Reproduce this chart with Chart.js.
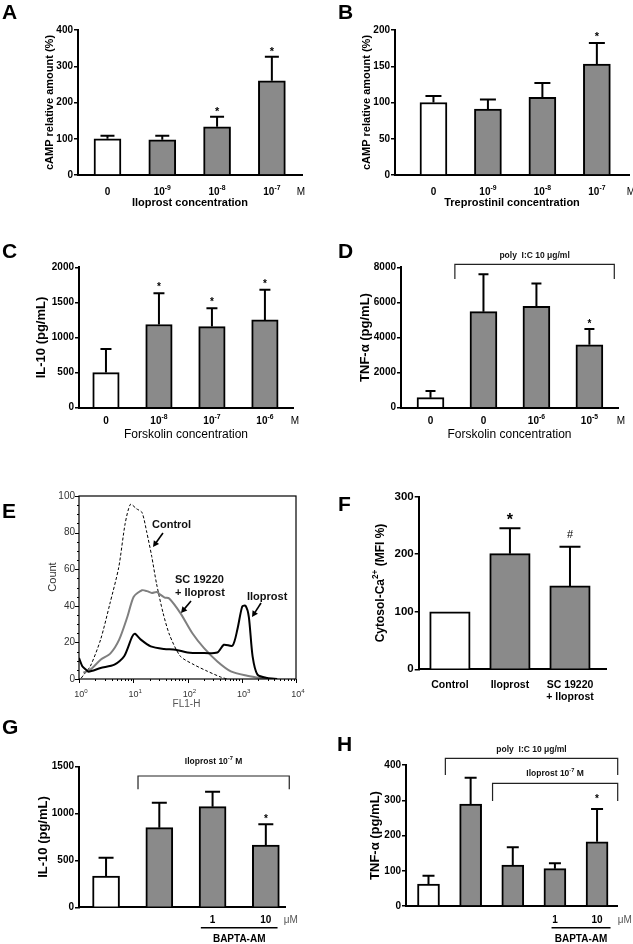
<!DOCTYPE html>
<html><head><meta charset="utf-8">
<script src="https://cdn.jsdelivr.net/npm/chart.js@4"></script>
<style>
html,body{margin:0;padding:0;background:#fff;}
#wrap{position:relative;width:633px;height:944px;overflow:hidden;background:#fff;}
#wrap canvas{position:absolute;left:0;top:0;}
</style></head>
<body><div id="wrap"></div>
<script>
// ---------------- DATA ----------------
const concUnit = 'M';
const aCategories = ['0', '10^{-9}', '10^{-8}', '10^{-7}'];
const aValues = [100, 97, 133, 260];
const aErrors = [8, 11, 28, 66];
const aMarks = ['', '', '*', '*'];

const bCategories = ['0', '10^{-9}', '10^{-8}', '10^{-7}'];
const bValues = [100, 91, 107, 153];
const bErrors = [9, 13, 20, 29];
const bMarks = ['', '', '', '*'];

const cCategories = ['0', '10^{-8}', '10^{-7}', '10^{-6}'];
const cValues = [500, 1185, 1155, 1250];
const cErrors = [335, 445, 262, 430];
const cMarks = ['', '*', '*', '*'];

const dCategories = ['0', '0', '10^{-6}', '10^{-5}'];
const dValues = [570, 5470, 5780, 3580];
const dErrors = [380, 2130, 1300, 905];
const dMarks = ['', '', '', '*'];

const eTickLabels = ['10^{0}', '10^{1}', '10^{2}', '10^{3}', '10^{4}'];
const eControlX = [1.1, 1.23, 1.62, 2.5, 3.7, 5.4, 7.1, 8.9, 11.5, 14.5, 17.8, 21.9, 26.9, 35.5, 46.8, 74, 132, 234, 407, 540];
const eControlY = [0.5, 2.4, 7, 21.5, 41, 61, 85, 95.5, 93, 91, 80, 67, 52, 36, 24, 12.4, 7.8, 4.2, 1.1, 0];
const eScX = [1.2, 1.6, 2.5, 3.8, 5.5, 7.8, 10.2, 14.5, 18, 22, 27, 32, 38, 46, 74, 123, 200, 355, 630, 1260, 2240, 3200];
const eScY = [3.5, 5, 10.5, 14, 21.5, 34, 45, 48.5, 48, 47, 47.5, 46, 44.5, 44, 36, 25, 17, 9.6, 4.2, 1.8, 0.5, 0];
const eIloX = [1, 1.15, 1.35, 1.5, 2.5, 4.5, 6.8, 9.5, 10.7, 13.8, 21, 37, 60, 100, 174, 355, 468, 676, 830, 1020, 1175, 1350, 1585, 1950, 2950, 4500];
const eIloY = [11.5, 7, 5, 4, 6, 7.8, 12.4, 23, 24.7, 21.5, 17.8, 16.4, 16, 14.5, 14.2, 14.5, 18.7, 18.2, 27, 39.6, 40, 34, 12.4, 2.4, 0.5, 0];

const fCategories = ['Control', 'Iloprost', 'SC 19220\n+ Iloprost'];
const fValues = [100, 201, 145];
const fErrors = [0, 44, 68];
const fMarks = ['', '*', '#'];

const gValues = [334, 850, 1074, 665];
const gErrors = [195, 266, 160, 221];
const gMarks = ['', '', '', '*'];
const gBaptaDoses = ['1', '10'];

const hValues = [62, 289, 116, 106, 182];
const hErrors = [24, 75, 51, 15, 93];
const hMarks = ['', '', '', '', '*'];
const hBaptaDoses = ['1', '10'];

// ---------------- HELPERS ----------------
const GRAY = '#8a8a8a';
const FAM = '"Liberation Sans", Arial, Helvetica, sans-serif';
function fnt(size, bold) { return (bold ? 'bold ' : '') + size + 'px ' + FAM; }

function text(ctx, str, x, y, size, bold, color, align, rot) {
  const lines = String(str).split('\n');
  ctx.save();
  ctx.translate(x, y);
  if (rot) ctx.rotate(rot);
  ctx.fillStyle = color;
  ctx.textBaseline = 'middle';
  ctx.textAlign = 'left';
  const lh = size * 1.15;
  lines.forEach((line, li) => {
    const parts = [];
    const re = /\^\{([^}]*)\}/g;
    let last = 0, m;
    while ((m = re.exec(line))) {
      if (m.index > last) parts.push({ t: line.slice(last, m.index), sup: false });
      parts.push({ t: m[1], sup: true });
      last = re.lastIndex;
    }
    if (last < line.length) parts.push({ t: line.slice(last), sup: false });
    const supSize = size * 0.68;
    let w = 0;
    parts.forEach(p => { ctx.font = fnt(p.sup ? supSize : size, bold); p.w = ctx.measureText(p.t).width; w += p.w; });
    let cx = align === 'center' ? -w / 2 : (align === 'right' ? -w : 0);
    parts.forEach(p => {
      ctx.font = fnt(p.sup ? supSize : size, bold);
      ctx.fillText(p.t, cx, li * lh + (p.sup ? -size * 0.4 : 0));
      cx += p.w;
    });
  });
  ctx.restore();
}

function newCanvas() {
  const c = document.createElement('canvas');
  c.width = 633; c.height = 944;
  document.getElementById('wrap').appendChild(c);
  return c;
}

// ---------------- BAR PANELS ----------------
function barPanel(p) {
  const canvas = newCanvas();
  const plugin = {
    id: 'panel' + p.letter,
    afterDatasetsDraw(chart) {
      const ctx = chart.ctx, ys = chart.scales.y;
      const meta = chart.getDatasetMeta(0);
      ctx.save();
      ctx.strokeStyle = '#000'; ctx.lineWidth = 2;
      meta.data.forEach((bar, i) => {
        const e = p.errors[i] || 0;
        const top = ys.getPixelForValue(p.values[i] + e);
        if (e) {
          ctx.beginPath();
          ctx.moveTo(bar.x, bar.y); ctx.lineTo(bar.x, top);
          ctx.moveTo(bar.x - p.cap / 2, top); ctx.lineTo(bar.x + p.cap / 2, top);
          ctx.stroke();
        }
        const mk = p.marks[i];
        if (mk) {
          const star = mk === '*';
          const sz = star ? p.starSize : p.hashSize;
          text(ctx, mk, bar.x, top - p.markGap + (star ? sz * 0.23 : 0), sz, star, '#000', 'center');
        }
      });
      ctx.restore();
    },
    afterDraw(chart) {
      const ctx = chart.ctx, xs = chart.scales.x, ca = chart.chartArea;
      text(ctx, p.letter, p.letterX, p.letterY, 21, true, '#000', 'left');
      text(ctx, p.yTitle, p.yTitleX, (ca.top + ca.bottom) / 2, p.yTitleSize, true, '#000', 'center', -Math.PI / 2);
      if (p.labels) p.labels.forEach((l, i) => text(ctx, l, xs.getPixelForValue(i), p.tickY, p.tickSize, p.tickBold, '#000', 'center'));
      if (p.unit) text(ctx, p.unit, ca.right + p.unitDx, p.tickY, 10, false, '#000', 'center');
      if (p.xTitle) text(ctx, p.xTitle, (ca.left + ca.right) / 2, p.xTitleY, p.xTitleSize, p.xTitleBold, '#000', 'center');
      (p.brackets || []).forEach(b => {
        const x1 = xs.getPixelForValue(b.from), x2 = xs.getPixelForValue(b.to);
        ctx.save();
        ctx.strokeStyle = '#222'; ctx.lineWidth = 1.2;
        ctx.beginPath();
        ctx.moveTo(x1, b.drop); ctx.lineTo(x1, b.y); ctx.lineTo(x2, b.y); ctx.lineTo(x2, b.drop);
        ctx.stroke();
        ctx.restore();
        text(ctx, b.text, (x1 + x2) / 2, b.textY, 8.5, true, '#111', 'center');
      });
      if (p.bapta) {
        const bp = p.bapta;
        bp.doses.forEach((d, k) => text(ctx, d, xs.getPixelForValue(bp.index[k]), bp.y, 10, true, '#000', 'center'));
        text(ctx, bp.unit, xs.getPixelForValue(bp.unitAt), bp.y, 10, false, '#555', 'center');
        const x1 = xs.getPixelForValue(bp.from), x2 = xs.getPixelForValue(bp.to);
        ctx.save(); ctx.strokeStyle = '#000'; ctx.lineWidth = 1.5;
        ctx.beginPath(); ctx.moveTo(x1, bp.lineY); ctx.lineTo(x2, bp.lineY); ctx.stroke(); ctx.restore();
        text(ctx, bp.name, (x1 + x2) / 2, bp.nameY, 10, true, '#000', 'center');
      }
    }
  };
  return new Chart(canvas, {
    type: 'bar',
    data: {
      datasets: [{
        data: p.values.map((v, i) => ({ x: i, y: v })),
        backgroundColor: p.values.map((v, i) => i === 0 ? '#ffffff' : GRAY),
        borderColor: '#000',
        borderWidth: 2,
        barThickness: p.barW
      }]
    },
    options: {
      responsive: false, animation: false, devicePixelRatio: 1,
      layout: { autoPadding: false, padding: { left: 0, top: p.top, right: 633 - p.end, bottom: 0 } },
      plugins: { legend: { display: false }, tooltip: { enabled: false } },
      scales: {
        x: {
          type: 'linear', min: p.xMin, max: p.xMax, offset: false, bounds: 'data',
          ticks: { display: false }, grid: { display: false, offset: false },
          border: { display: true, color: '#000', width: 2 },
          afterFit: s => { s.height = 944 - p.axisY; }
        },
        y: {
          type: 'linear', min: 0, max: p.yMax,
          ticks: { stepSize: p.yStep, padding: 1, color: '#000', font: { family: FAM, size: p.yTickSize, weight: 'bold' }, callback: v => String(v) },
          grid: { display: true, drawOnChartArea: false, drawTicks: true, tickLength: 4, color: '#000', lineWidth: 1.5 },
          border: { display: true, color: '#000', width: 2 },
          afterFit: s => { s.width = p.axisX; }
        }
      }
    },
    plugins: [plugin]
  });
}

barPanel({ letter: 'A', letterX: 2, letterY: 13, values: aValues, errors: aErrors, marks: aMarks, labels: aCategories,
  axisX: 78, axisY: 175, top: 30, end: 302, xMin: -0.538, xMax: 3.55, yMax: 400, yStep: 100, barW: 27, cap: 14,
  yTickSize: 10, yTitle: 'cAMP relative amount (%)', yTitleX: 50, yTitleSize: 11,
  tickY: 192, tickSize: 10, tickBold: true, unit: concUnit, unitDx: -1,
  xTitle: 'Iloprost concentration', xTitleY: 203, xTitleSize: 11, xTitleBold: true,
  starSize: 11, hashSize: 10, markGap: 7 });

barPanel({ letter: 'B', letterX: 338, letterY: 13, values: bValues, errors: bErrors, marks: bMarks, labels: bCategories,
  axisX: 395, axisY: 175, top: 30, end: 629, xMin: -0.706, xMax: 3.59, yMax: 200, yStep: 50, barW: 27, cap: 16,
  yTickSize: 10, yTitle: 'cAMP relative amount (%)', yTitleX: 367, yTitleSize: 11,
  tickY: 192, tickSize: 10, tickBold: true, unit: concUnit, unitDx: 2,
  xTitle: 'Treprostinil concentration', xTitleY: 203, xTitleSize: 11, xTitleBold: true,
  starSize: 11, hashSize: 10, markGap: 9 });

barPanel({ letter: 'C', letterX: 2, letterY: 252, values: cValues, errors: cErrors, marks: cMarks, labels: cCategories,
  axisX: 79, axisY: 407.7, top: 267.3, end: 293, xMin: -0.509, xMax: 3.53, yMax: 2000, yStep: 500, barW: 26.5, cap: 11,
  yTickSize: 10, yTitle: 'IL-10 (pg/mL)', yTitleX: 41, yTitleSize: 13,
  tickY: 421, tickSize: 10, tickBold: true, unit: concUnit, unitDx: 2,
  xTitle: 'Forskolin concentration', xTitleY: 435, xTitleSize: 12, xTitleBold: false,
  starSize: 10, hashSize: 10, markGap: 8 });

barPanel({ letter: 'D', letterX: 338, letterY: 252, values: dValues, errors: dErrors, marks: dMarks, labels: dCategories,
  axisX: 401, axisY: 407.7, top: 267.3, end: 618, xMin: -0.557, xMax: 3.54, yMax: 8000, yStep: 2000, barW: 27, cap: 10,
  yTickSize: 10, yTitle: 'TNF-\u03b1 (pg/mL)', yTitleX: 365, yTitleSize: 13,
  tickY: 421, tickSize: 10, tickBold: true, unit: concUnit, unitDx: 3,
  xTitle: 'Forskolin concentration', xTitleY: 435, xTitleSize: 12, xTitleBold: false,
  starSize: 10, hashSize: 10, markGap: 7.5,
  brackets: [{ text: 'poly  I:C 10 \u03bcg/ml', from: 0.46, to: 3.47, y: 264.3, drop: 279, textY: 256 }] });

barPanel({ letter: 'F', letterX: 338, letterY: 505, values: fValues, errors: fErrors, marks: fMarks, labels: fCategories,
  axisX: 418.7, axisY: 669.3, top: 496.7, end: 606, xMin: -0.52, xMax: 2.6, yMax: 300, yStep: 100, barW: 40.5, cap: 21,
  yTickSize: 11.5, yTitle: 'Cytosol-Ca^{2+} (MFI %)', yTitleX: 381, yTitleSize: 12,
  tickY: 685, tickSize: 10.5, tickBold: true,
  starSize: 16, hashSize: 11, markGap: 11.6 });

barPanel({ letter: 'G', letterX: 2, letterY: 728, values: gValues, errors: gErrors, marks: gMarks,
  axisX: 79, axisY: 907.3, top: 766.7, end: 285, xMin: -0.508, xMax: 3.36, yMax: 1500, yStep: 500, barW: 27, cap: 15,
  yTickSize: 10, yTitle: 'IL-10 (pg/mL)', yTitleX: 43, yTitleSize: 13,
  starSize: 10, hashSize: 10, markGap: 7.5,
  brackets: [{ text: 'Iloprost 10^{-7} M', from: 0.6, to: 3.44, y: 776, drop: 789.3, textY: 761.7 }],
  bapta: { doses: gBaptaDoses, index: [2, 3], y: 920.7, unit: '\u03bcM', unitAt: 3.47, from: 1.78, to: 3.22, lineY: 927.7, name: 'BAPTA-AM', nameY: 939.3 } });

barPanel({ letter: 'H', letterX: 337, letterY: 745, values: hValues, errors: hErrors, marks: hMarks,
  axisX: 406, axisY: 906, top: 765, end: 617.7, xMin: -0.534, xMax: 4.49, yMax: 400, yStep: 100, barW: 22, cap: 12,
  yTickSize: 10, yTitle: 'TNF-\u03b1 (pg/mL)', yTitleX: 375, yTitleSize: 13,
  starSize: 10, hashSize: 10, markGap: 12,
  brackets: [
    { text: 'poly  I:C 10 \u03bcg/ml', from: 0.4, to: 4.49, y: 758.3, drop: 775, textY: 750 },
    { text: 'Iloprost 10^{-7} M', from: 1.52, to: 4.49, y: 783.3, drop: 801, textY: 774 }],
  bapta: { doses: hBaptaDoses, index: [3, 4], y: 920.7, unit: '\u03bcM', unitAt: 4.66, from: 2.92, to: 4.32, lineY: 927.7, name: 'BAPTA-AM', nameY: 939.3 } });

// ---------------- PANEL E (flow cytometry histogram) ----------------
(function () {
  const canvas = newCanvas();
  const notes = [
    { lines: 'Control', x: 22.2, y: 84.2, from: [35.3, 79.8], to: [23.1, 72.1] },
    { lines: 'SC 19220\n+ Iloprost', x: 58.9, y: 54.1, from: [116, 42.6], to: [75.9, 36.1] },
    { lines: 'Iloprost', x: 1250, y: 44.8, from: [2265, 41.5], to: [1545, 33.9] }
  ];
  const plugin = {
    id: 'panelE',
    afterDraw(chart) {
      const ctx = chart.ctx, xs = chart.scales.x, ys = chart.scales.y, ca = chart.chartArea;
      ctx.save();
      ctx.strokeStyle = '#000'; ctx.lineWidth = 1.2;
      ctx.strokeRect(ca.left, ca.top, ca.right - ca.left, ca.bottom - ca.top);
      ctx.lineWidth = 1;
      ctx.beginPath();
      for (let v = 0; v <= 100; v += 5) {
        const y = Math.round(ys.getPixelForValue(v)) + 0.5;
        const len = v % 20 === 0 ? 4 : 2;
        ctx.moveTo(ca.left, y); ctx.lineTo(ca.left - len, y);
      }
      for (let d = 1; d <= 10000; d *= 10) {
        for (let k = 1; k <= 9; k++) {
          const v = d * k; if (v > 10000) break;
          const x = Math.round(xs.getPixelForValue(v)) + 0.5;
          const len = k === 1 ? 4 : 2;
          ctx.moveTo(x, ca.bottom); ctx.lineTo(x, ca.bottom + len);
        }
      }
      ctx.stroke();
      ctx.restore();
      eTickLabels.forEach((l, i) => text(ctx, l, xs.getPixelForValue(Math.pow(10, i)) + 2, 695, 9, false, '#333', 'center'));
      text(ctx, 'FL1-H', (ca.left + ca.right) / 2 - 1, 704, 10, false, '#555', 'center');
      text(ctx, 'Count', 53, 577, 11, false, '#333', 'center', -Math.PI / 2);
      text(ctx, 'E', 2, 512, 21, true, '#000', 'left');
      notes.forEach(n => {
        text(ctx, n.lines, xs.getPixelForValue(n.x), ys.getPixelForValue(n.y), 11, true, '#111', 'left');
        const x1 = xs.getPixelForValue(n.from[0]), y1 = ys.getPixelForValue(n.from[1]);
        const x2 = xs.getPixelForValue(n.to[0]), y2 = ys.getPixelForValue(n.to[1]);
        const ang = Math.atan2(y2 - y1, x2 - x1);
        ctx.save();
        ctx.strokeStyle = '#000'; ctx.fillStyle = '#000'; ctx.lineWidth = 1.6;
        ctx.beginPath(); ctx.moveTo(x1, y1); ctx.lineTo(x2 - 4 * Math.cos(ang), y2 - 4 * Math.sin(ang)); ctx.stroke();
        ctx.beginPath();
        ctx.moveTo(x2, y2);
        ctx.lineTo(x2 - 6 * Math.cos(ang) + 3.2 * Math.sin(ang), y2 - 6 * Math.sin(ang) - 3.2 * Math.cos(ang));
        ctx.lineTo(x2 - 6 * Math.cos(ang) - 3.2 * Math.sin(ang), y2 - 6 * Math.sin(ang) + 3.2 * Math.cos(ang));
        ctx.closePath(); ctx.fill();
        ctx.restore();
      });
    }
  };
  const pts = (xs, ys) => xs.map((x, i) => ({ x: x, y: ys[i] }));
  new Chart(canvas, {
    type: 'line',
    data: {
      datasets: [
        { data: pts(eIloX, eIloY), borderColor: '#000', borderWidth: 2, pointRadius: 0, tension: 0.25, fill: false },
        { data: pts(eScX, eScY), borderColor: '#7f7f7f', borderWidth: 2, pointRadius: 0, tension: 0.25, fill: false },
        { data: pts(eControlX, eControlY), borderColor: '#000', borderWidth: 1, borderDash: [3, 2], pointRadius: 0, tension: 0.25, fill: false }
      ]
    },
    options: {
      responsive: false, animation: false, devicePixelRatio: 1,
      layout: { autoPadding: false, padding: { left: 0, top: 496, right: 633 - 296, bottom: 0 } },
      plugins: { legend: { display: false }, tooltip: { enabled: false } },
      scales: {
        x: {
          type: 'logarithmic', min: 1, max: 10000,
          ticks: { display: false }, grid: { display: false },
          border: { display: false },
          afterFit: s => { s.height = 944 - 679; }
        },
        y: {
          type: 'linear', min: 0, max: 100,
          ticks: { stepSize: 20, padding: 4, color: '#333', font: { family: FAM, size: 10 } },
          grid: { display: false, drawTicks: false },
          border: { display: false },
          afterFit: s => { s.width = 79; }
        }
      }
    },
    plugins: [plugin]
  });
})();
</script>
</body></html>
